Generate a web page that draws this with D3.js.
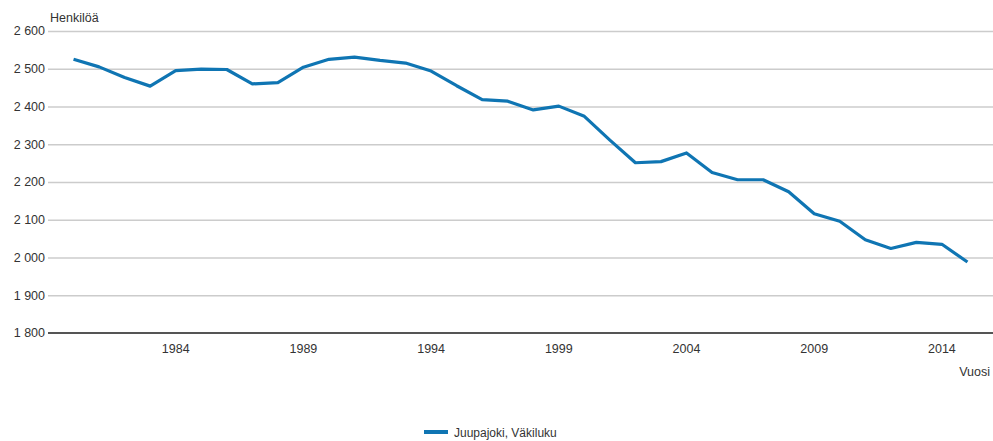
<!DOCTYPE html>
<html>
<head>
<meta charset="utf-8">
<script src="https://cdn.jsdelivr.net/npm/d3@7"></script>
<style>
  body { margin: 0; background: #fff; }
  #chart { width: 993px; height: 441px; overflow: hidden; }
  text { font-family: "Liberation Sans", Arial, sans-serif; font-size: 12.5px; fill: #333; }
  .grid line { stroke: #cccccc; stroke-width: 1.3; }
  .grid path { display: none; }
</style>
</head>
<body>
<div id="chart"></div>
<script>
const years = d3.range(1980, 2016);
const population = [
  2525, 2505, 2477, 2454, 2495, 2499, 2498, 2460, 2463, 2504,
  2525, 2531, 2522, 2515, 2494, 2455, 2418, 2414, 2391, 2401,
  2374, 2311, 2251, 2254, 2277, 2225, 2206, 2206, 2174, 2116,
  2096, 2047, 2024, 2040, 2035, 1988
];
const yTicks = [1800, 1900, 2000, 2100, 2200, 2300, 2400, 2500, 2600];
const xTicks = [1984, 1989, 1994, 1999, 2004, 2009, 2014];
const seriesName = 'Juupajoki, Väkiluku';

const margin = { top: 31, right: 0, bottom: 108, left: 48 };
const totalW = 993, totalH = 441;
const width = totalW - margin.left - margin.right;
const height = totalH - margin.top - margin.bottom;

const svg = d3.select('#chart').append('svg')
    .attr('width', totalW)
    .attr('height', totalH)
    .append('g')
    .attr('transform', `translate(${margin.left},${margin.top})`);

const x = d3.scaleLinear().domain([1979, 2016]).range([0, width]);
const y = d3.scaleLinear().domain([1800, 2600]).range([height, 0]);

const fmt = v => d3.format(',')(v).replace(',', ' ');

// gridlines
svg.append('g')
    .attr('class', 'grid')
    .call(d3.axisLeft(y).tickValues(yTicks.slice(1)).tickSize(-width).tickFormat(''));

// y labels
svg.selectAll('.ylab')
    .data(yTicks)
    .join('text')
    .attr('class', 'ylab')
    .attr('x', -3)
    .attr('y', d => y(d))
    .attr('dy', '0.35em')
    .attr('text-anchor', 'end')
    .text(fmt);

// base axis line
svg.append('line')
    .attr('x1', 0).attr('x2', width)
    .attr('y1', y(1800)).attr('y2', y(1800))
    .attr('stroke', '#555')
    .attr('stroke-width', 2);

// x labels
svg.selectAll('.xlab')
    .data(xTicks)
    .join('text')
    .attr('class', 'xlab')
    .attr('x', d => x(d))
    .attr('y', height + 20)
    .attr('text-anchor', 'middle')
    .text(d => d);

// line
const line = d3.line()
    .x((d, i) => x(years[i]))
    .y(d => y(d));

svg.append('path')
    .datum(population)
    .attr('fill', 'none')
    .attr('stroke', '#0f75b3')
    .attr('stroke-width', 3.2)
    .attr('stroke-linejoin', 'round')
    .attr('d', line);

// axis titles
svg.append('text')
    .attr('x', 2)
    .attr('y', -9)
    .text('Henkilöä');

svg.append('text')
    .attr('x', width - 3)
    .attr('y', height + 43)
    .attr('text-anchor', 'end')
    .text('Vuosi');

// legend (kept just inside the bottom edge)
const legend = svg.append('g')
    .attr('transform', `translate(${424 - margin.left},${432 - margin.top})`);
legend.append('line')
    .attr('x1', 0).attr('x2', 24)
    .attr('stroke', '#0f75b3')
    .attr('stroke-width', 4);
legend.append('text')
    .attr('x', 30)
    .attr('y', 5)
    .style('font-size', '12px')
    .text(seriesName);
</script>
</body>
</html>
